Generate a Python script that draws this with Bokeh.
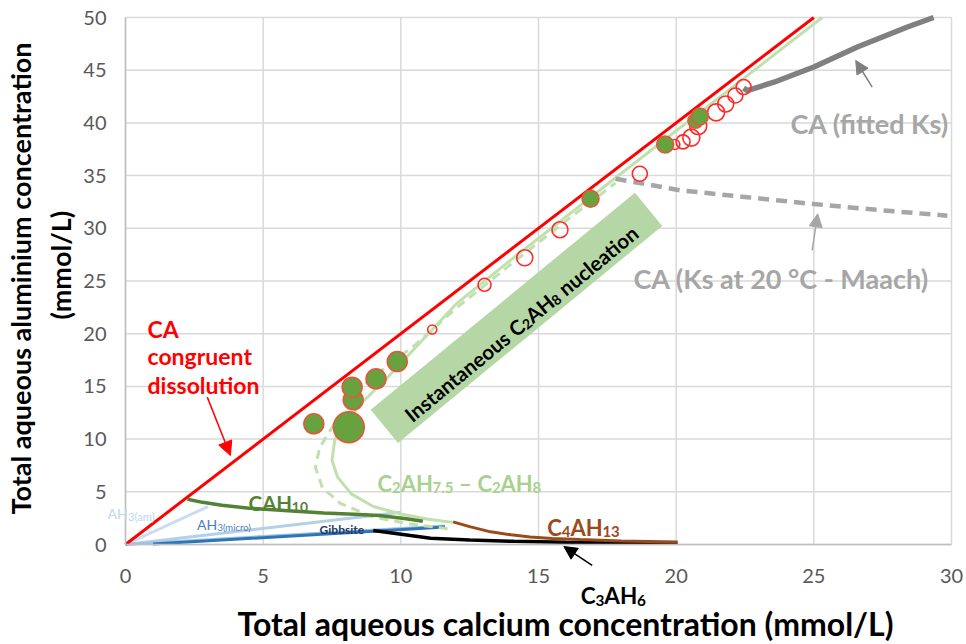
import math
from bokeh.plotting import figure
from bokeh.models import Range1d, Label, Arrow, NormalHead, FixedTicker, LinearAxis
from bokeh.embed import file_html
from bokeh.resources import INLINE

# ---------------- data ----------------
x_ticks = [0, 5, 10, 15, 20, 25, 30]
y_ticks = [0, 5, 10, 15, 20, 25, 30, 35, 40, 45, 50]

ca_congruent_x = [0, 25]
ca_congruent_y = [0, 50]

ah3_am_x = [0, 3.0]
ah3_am_y = [0, 3.6]
ah3_micro_x = [0, 10.0]
ah3_micro_y = [0, 3.07]
ah3_pale_x = [0, 11.6]
ah3_pale_y = [0, 1.75]
gibbsite_x = [1.0, 9.0, 11.6]
gibbsite_y = [0.05, 1.25, 1.65]

cah10_x = [2.25, 2.8, 3.5, 4.5, 5.9, 7.2, 8.3, 9.2, 10.2, 10.8]
cah10_y = [4.3, 4.0, 3.72, 3.45, 3.2, 2.98, 2.88, 2.75, 2.45, 2.2]

c2ah8_solid_x = [11.9, 11.0, 10.0, 9.0, 8.2, 7.7, 7.5, 7.6, 8.0, 8.6, 9.5, 10.5, 12.0, 14.0, 16.0, 18.0, 20.0, 22.0, 25.3]
c2ah8_solid_y = [2.1, 2.4, 2.9, 3.6, 4.8, 6.4, 8.0, 9.9, 11.6, 13.5, 15.8, 18.6, 22.8, 27.0, 31.1, 35.2, 39.25, 43.3, 50.0]
c2ah8_dash_x = [11.7, 10.2, 9.0, 7.8, 7.15, 6.9, 7.05, 7.6, 8.8, 10.5, 12.0, 14.0, 16.0, 17.8]
c2ah8_dash_y = [1.5, 2.0, 2.6, 3.9, 5.4, 7.3, 9.2, 11.5, 15.5, 18.9, 22.4, 26.6, 30.7, 34.3]

c4ah13_x = [11.9, 12.5, 13.26, 14.0, 14.7, 15.5, 16.5, 18.0, 20.05]
c4ah13_y = [2.15, 1.7, 1.2, 0.92, 0.72, 0.58, 0.47, 0.34, 0.24]
c3ah6_x = [9.0, 10.35, 11.08, 12.5, 14.1, 16.0, 18.0, 20.05]
c3ah6_y = [1.33, 0.85, 0.6, 0.42, 0.3, 0.22, 0.17, 0.13]

ca_fitted_x = [22.45, 22.58, 23.55, 25.0, 26.58, 28.4, 29.35]
ca_fitted_y = [43.3, 43.07, 43.86, 45.3, 47.2, 49.1, 50.0]
ca_maach_x = [17.8, 20.16, 22.58, 25.0, 27.5, 29.85]
ca_maach_y = [34.7, 33.6, 32.95, 32.3, 31.7, 31.2]

exp_filled_x = [6.84, 8.11, 8.27, 8.23, 9.1, 9.87, 16.89, 19.6, 20.7, 20.86]
exp_filled_y = [11.45, 11.13, 13.73, 14.93, 15.72, 17.36, 32.8, 37.95, 40.2, 40.6]
exp_filled_d = [20, 31, 20, 20, 20, 20, 17, 17, 15, 17]

exp_open_x = [11.14, 13.04, 14.5, 15.78, 18.68, 19.95, 20.25, 20.55, 20.8, 21.45, 21.8, 22.15, 22.45]
exp_open_y = [20.4, 24.64, 27.2, 29.86, 35.17, 37.95, 38.2, 38.6, 39.7, 41.0, 41.8, 42.6, 43.4]
exp_open_d = [9, 13, 16, 16, 15, 10, 14, 17, 17, 17, 16, 15, 15]

# nucleation band (centre in data units, size in px, angle deg)
band_cx, band_cy = 14.2, 21.5
band_w, band_h, band_angle = 342, 43, 39.4

FONT = "Lato"

# ---------------- layout (frame = whole canvas, axes pinned at 0) ----------------
W_PX, H_PX = 966, 644
X_ORIGIN_PX, X_END_PX = 125, 951     # pixel of x=0 and x=30
Y_ORIGIN_PX, Y_END_PX = 544, 17      # pixel (from top) of y=0 and y=50
sx = (X_END_PX - X_ORIGIN_PX) / 30.0
sy = (Y_ORIGIN_PX - Y_END_PX) / 50.0
x0 = -X_ORIGIN_PX / sx
x1 = x0 + W_PX / sx
y0 = -(H_PX - Y_ORIGIN_PX) / sy
y1 = y0 + H_PX / sy

p = figure(width=W_PX, height=H_PX, x_range=Range1d(x0, x1), y_range=Range1d(y0, y1),
           output_backend="svg", toolbar_location=None,
           x_axis_location=None, y_axis_location=None, min_border=0)
p.outline_line_color = None
p.background_fill_color = "white"
p.border_fill_color = "white"
p.grid.visible = False

# grid lines from the tick arrays
p.segment(x0=x_ticks, y0=[0] * len(x_ticks), x1=x_ticks, y1=[50] * len(x_ticks),
          line_color="#d9d9d9", line_width=1.5)
p.segment(x0=[0] * len(y_ticks), y0=y_ticks, x1=[30] * len(y_ticks), y1=y_ticks,
          line_color="#d9d9d9", line_width=1.5)

xaxis = LinearAxis(fixed_location=0, bounds=(0, 30), ticker=FixedTicker(ticks=x_ticks))
yaxis = LinearAxis(fixed_location=0, bounds=(0, 50), ticker=FixedTicker(ticks=y_ticks))
for ax in (xaxis, yaxis):
    ax.major_tick_line_color = None
    ax.minor_tick_line_color = None
    ax.major_tick_out = 0
    ax.major_tick_in = 0
    ax.minor_tick_out = 0
    ax.axis_line_color = "#bfbfbf"
    ax.axis_line_width = 1.5
    ax.major_label_text_font = FONT
    ax.major_label_text_font_size = "20px"
    ax.major_label_text_color = "#595959"
xaxis.major_label_standoff = 24
yaxis.major_label_standoff = 19
p.add_layout(xaxis, "below")
p.add_layout(yaxis, "left")

# ---------------- lines ----------------
p.line(ah3_am_x, ah3_am_y, line_color="#c9dcf0", line_width=3)
p.line(ah3_micro_x, ah3_micro_y, line_color="#b4cfe9", line_width=3)
p.line(ah3_pale_x, ah3_pale_y, line_color="#9dc3e6", line_width=3)
p.line(gibbsite_x, gibbsite_y, line_color="#2e75b6", line_width=3)
p.line(c2ah8_dash_x, c2ah8_dash_y, line_color="#c0e0ae", line_width=3, line_dash="9 6")
p.line(c2ah8_solid_x, c2ah8_solid_y, line_color="#c0e0ae", line_width=3)
p.line(cah10_x, cah10_y, line_color="#548235", line_width=3.5)
p.line(c3ah6_x, c3ah6_y, line_color="#000000", line_width=3.5)
p.line(c4ah13_x, c4ah13_y, line_color="#9c4a1a", line_width=3)
p.line(ca_maach_x, ca_maach_y, line_color="#a6a6a6", line_width=4.5, line_dash="11 7")
p.line(ca_fitted_x, ca_fitted_y, line_color="#808080", line_width=5.5)
p.line(ca_congruent_x, ca_congruent_y, line_color="#ff0000", line_width=3)

p.scatter(exp_open_x, exp_open_y, size=exp_open_d, marker="circle", fill_color=None,
          line_color="#ff2a2a", line_width=1.6)
p.scatter(exp_filled_x, exp_filled_y, size=exp_filled_d, marker="circle", fill_color="#67a23f",
          line_color="#e8553a", line_width=1.5)

p.rect(x=[band_cx], y=[band_cy], width=band_w, height=band_h, width_units="screen",
       height_units="screen", angle=math.radians(band_angle), fill_color="#b5d7a6",
       line_color=None)

# ---------------- text helpers ----------------
W_BOLD = {
    'A': .69, 'C': .66, 'H': .76, 'K': .68, 'M': .90, 'I': .30, 'G': .73, 'T': .60, 'L': .52,
    'a': .52, 'b': .57, 'c': .46, 'd': .57, 'e': .53, 'f': .34, 'g': .52, 'h': .57, 'i': .26,
    'l': .26, 'm': .86, 'n': .57, 'o': .57, 'q': .57, 'r': .38, 's': .43, 't': .36, 'u': .57,
    ' ': .25, '.': .25, '(': .32, ')': .32, '–': .58, '-': .36, '°': .40, '/': .40,
}


def text_w(s, fs):
    return sum(W_BOLD.get(ch, .58) for ch in s) * fs


def piece_w(part, size, sub_scale):
    txt, kind = part
    if kind == "g":
        return txt * size
    return text_w(txt, size * sub_scale if kind == "s" else size)


def rich(x, y, parts, color, size, angle_deg=0.0, style="bold", sub_scale=0.68,
         base_dx=0.0, base_dy=0.0):
    """parts: (text, 'n'|'s') or (gap_em, 'g')"""
    a = math.radians(angle_deg)
    adv = 0.0
    for part in parts:
        txt, kind = part
        if kind != "g":
            sub = kind == "s"
            fs = size * sub_scale if sub else size
            dy = -size * 0.2 if sub else 0.0
            ox = base_dx + adv * math.cos(a) - dy * math.sin(a)
            oy = base_dy + adv * math.sin(a) + dy * math.cos(a)
            p.add_layout(Label(x=x, y=y, x_offset=ox, y_offset=oy, text=txt, angle=a,
                               text_font=FONT, text_font_size=f"{fs:.1f}px",
                               text_font_style=style, text_color=color,
                               text_baseline="alphabetic", text_align="left"))
        adv += piece_w(part, size, sub_scale)
    return adv


def total_w(parts, size, sub_scale=0.68):
    return sum(piece_w(pt, size, sub_scale) for pt in parts)


def plain(x, y, txt, color, size, style="bold", align="left", baseline="alphabetic", angle=0.0):
    p.add_layout(Label(x=x, y=y, text=txt, angle=angle, text_font=FONT,
                       text_font_size=f"{size}px", text_font_style=style, text_color=color,
                       text_align=align, text_baseline=baseline))


# ---------------- labels ----------------
for txt, yy in (("CA", 20.49), ("congruent", 17.84), ("dissolution", 15.09)):
    plain(0.8, yy, txt, "#ff0000", 23)

rich(4.47, 3.98, [("CAH", "n"), ("10", "s")], "#548235", 20.5)
rich(9.15, 5.79, [("C", "n"), ("2", "s"), ("AH", "n"), ("7.5", "s"), (0.25, "g"), ("–", "n"),
                  (0.25, "g"), ("C", "n"), ("2", "s"), ("AH", "n"), ("8", "s")], "#a9d18e", 22)
rich(15.32, 1.61, [("C", "n"), ("4", "s"), ("AH", "n"), ("13", "s")], "#9c4a1a", 22)
rich(16.53, -4.84, [("C", "n"), ("3", "s"), ("AH", "n"), ("6", "s")], "#000000", 22.5)
rich(-0.65, 2.94, [("AH", "n"), ("3(am)", "s")], "#bdd7ee", 14, style="normal", sub_scale=0.8)
rich(2.6, 1.9, [("AH", "n"), ("3(micro)", "s")], "#4a7fbf", 14, style="normal", sub_scale=0.68)
plain(7.05, 1.42, "Gibbsite", "#1f3864", 12)

plain(24.15, 39.9, "CA (fitted Ks)", "#a6a6a6", 27)
plain(18.45, 25.2, "CA (Ks at 20 °C - Maach)", "#a6a6a6", 27)

# rotated nucleation text
nuc_parts = [("Instantaneous", "n"), (0.25, "g"), ("C", "n"), ("2", "s"), ("AH", "n"), ("8", "s"),
             (0.25, "g"), ("nucleation", "n")]
nuc_size = 20.5
Wn = total_w(nuc_parts, nuc_size)
cap = 0.72 * nuc_size
a = math.radians(band_angle)
bdx = -Wn / 2 * math.cos(a) + cap / 2 * math.sin(a)
bdy = -Wn / 2 * math.sin(a) - cap / 2 * math.cos(a)
rich(band_cx, band_cy, nuc_parts, "#000000", nuc_size, angle_deg=band_angle, base_dx=bdx, base_dy=bdy)

# axis titles
plain(15.98, -7.5, "Total aqueous calcium concentration (mmol/L)", "#000000", 32,
      align="center", baseline="middle")
plain(-3.81, 25.24, "Total aqueous aluminium concentration", "#000000", 27,
      align="center", baseline="middle", angle=math.pi / 2)
plain(-2.36, 26.5, "(mmol/L)", "#000000", 27, align="center", baseline="middle",
      angle=math.pi / 2)

# arrows
def arrow(xs, ys, xe, ye, color, size=13):
    p.add_layout(Arrow(x_start=xs, y_start=ys, x_end=xe, y_end=ye, line_color=color,
                       line_width=1.5, end=NormalHead(size=size, fill_color=color, line_color=color)))


arrow(2.97, 13.98, 3.81, 8.44, "#ff0000", 14)
arrow(27.12, 43.39, 26.52, 45.92, "#7f7f7f")
arrow(24.94, 27.9, 25.14, 31.37, "#a6a6a6")
arrow(16.95, -1.99, 15.92, -0.19, "#000000")

open("out.html", "w").write(file_html(p, INLINE))
